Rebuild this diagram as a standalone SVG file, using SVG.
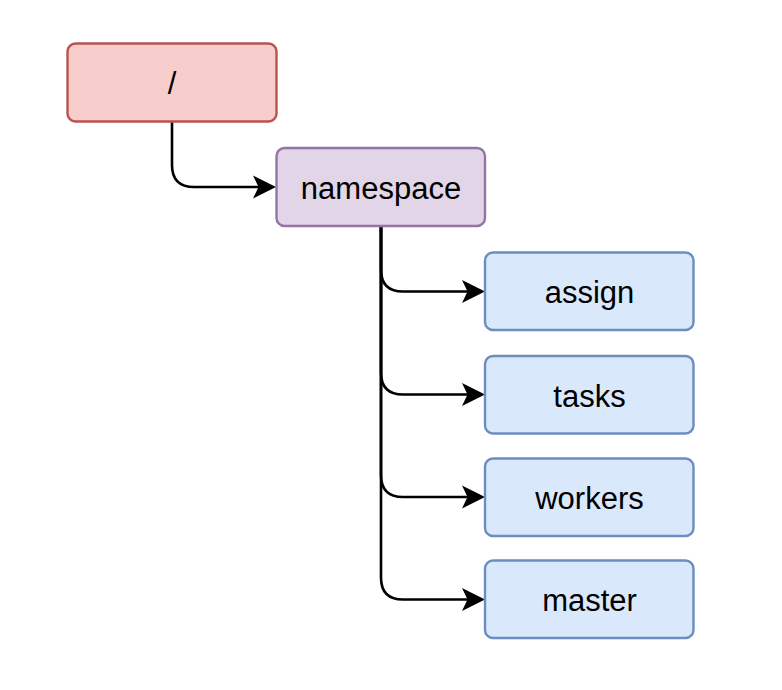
<svg xmlns="http://www.w3.org/2000/svg" width="782" height="690" viewBox="0 0 782 690">
  <defs>
    <marker id="arrow" markerUnits="userSpaceOnUse" markerWidth="26" markerHeight="28" viewBox="-24 -13 26 26" refX="-17" refY="0" orient="auto" overflow="visible">
      <path d="M0,0 L-23,-11.5 L-17.5,0 L-23,11.5 Z" fill="#000"/>
    </marker>
    <style>
      .lbl { font-family: "Liberation Sans", Arial, Helvetica, sans-serif; font-size: 31px; fill: #000; text-anchor: middle; dominant-baseline: central; }
      .red { fill: #f8cecc; stroke: #b85450; stroke-width: 2.4; }
      .purple { fill: #e1d5e7; stroke: #9673a6; stroke-width: 2.4; }
      .blue { fill: #dae8fc; stroke: #6c8ebf; stroke-width: 2.4; }
      .edge { fill: none; stroke: #000; stroke-width: 2.6; }
    </style>
  </defs>
  <rect width="782" height="690" fill="#fff"/>
  <g id="connectors">
    <path class="edge" d="M172,122 L172,165 Q172,187 194,187 L259,187" marker-end="url(#arrow)"/>
    <path class="edge" d="M381,226 L381,269.5 Q381,291.5 403,291.5 L468,291.5" marker-end="url(#arrow)"/>
    <path class="edge" d="M381,226 L381,372.5 Q381,394.5 403,394.5 L468,394.5" marker-end="url(#arrow)"/>
    <path class="edge" d="M381,226 L381,475 Q381,497 403,497 L468,497" marker-end="url(#arrow)"/>
    <path class="edge" d="M381,226 L381,577.5 Q381,599.5 403,599.5 L468,599.5" marker-end="url(#arrow)"/>
  </g>
  <g id="node-root">
    <rect class="red" x="67.5" y="43.5" width="209" height="78" rx="8" ry="8"/>
    <text class="lbl" x="172" y="83">/</text>
  </g>
  <g id="node-namespace">
    <rect class="purple" x="276.5" y="148" width="208.5" height="78" rx="8" ry="8"/>
    <text class="lbl" x="381" y="188">namespace</text>
  </g>
  <g id="node-assign">
    <rect class="blue" x="485" y="252.5" width="208.5" height="77.5" rx="8" ry="8"/>
    <text class="lbl" x="589.5" y="292.5">assign</text>
  </g>
  <g id="node-tasks">
    <rect class="blue" x="485" y="356" width="208.5" height="77.5" rx="8" ry="8"/>
    <text class="lbl" x="589.5" y="396">tasks</text>
  </g>
  <g id="node-workers">
    <rect class="blue" x="485" y="458.5" width="208.5" height="77.5" rx="8" ry="8"/>
    <text class="lbl" x="589.5" y="498">workers</text>
  </g>
  <g id="node-master">
    <rect class="blue" x="485" y="560.5" width="208.5" height="77.5" rx="8" ry="8"/>
    <text class="lbl" x="589.5" y="600.5">master</text>
  </g>
</svg>
